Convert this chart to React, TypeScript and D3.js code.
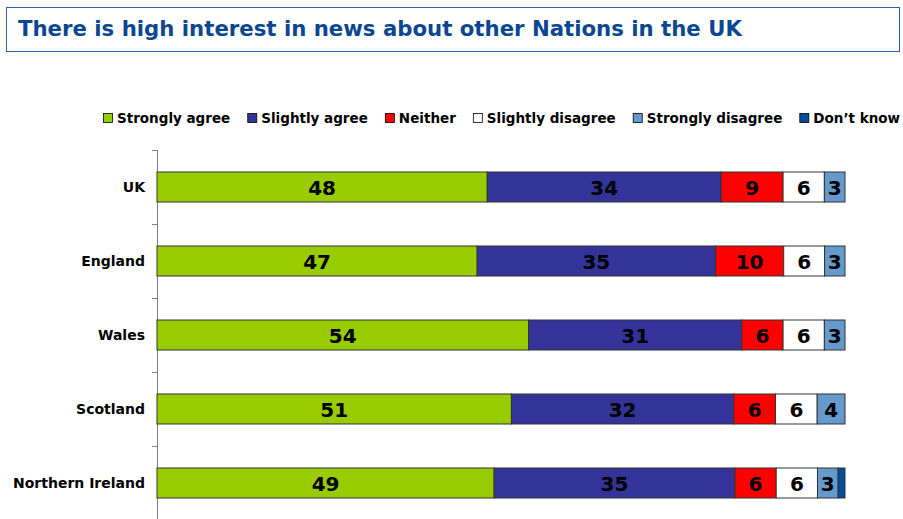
import React, { useEffect, useRef } from 'react';
import * as d3 from 'd3';

const categories = ['UK', 'England', 'Wales', 'Scotland', 'Northern Ireland'];
const seriesNames = [
  'Strongly agree',
  'Slightly agree',
  'Neither',
  'Slightly disagree',
  'Strongly disagree',
  'Don\u2019t know',
];
const strongly_agree = [48, 47, 54, 51, 49];
const slightly_agree = [34, 35, 31, 32, 35];
const neither = [9, 10, 6, 6, 6];
const slightly_disagree = [6, 6, 6, 6, 6];
const strongly_disagree = [3, 3, 3, 4, 3];
const dont_know = [0, 0, 0, 0, 1];
const colors = ['#99CC00', '#333399', '#FF0000', '#FFFFFF', '#6699CC', '#034C9B'];

const W = 903;
const H = 519;
const FONT = 'Verdana, DejaVu Sans, sans-serif';

export default function App() {
  const svgRef = useRef<SVGSVGElement>(null);

  useEffect(() => {
    if (!svgRef.current) return;
    const svg = d3.select(svgRef.current);
    svg.selectAll('*').remove();

    // Title box
    svg
      .append('rect')
      .attr('x', 6.5)
      .attr('y', 7.5)
      .attr('width', 893)
      .attr('height', 44)
      .attr('fill', '#fff')
      .attr('stroke', '#2D62A8')
      .attr('stroke-width', 1);
    const title = svg
      .append('text')
      .attr('x', 18)
      .attr('y', 36)
      .attr('fill', '#0B4690')
      .attr('font-family', FONT)
      .attr('font-weight', 'bold')
      .attr('font-size', '20px')
      .text('There is high interest in news about other Nations in the UK');
    // fit title to the width it takes in the original slide
    const tl = (title.node() as SVGTextElement).getComputedTextLength();
    title.attr('font-size', `${(20 * 724) / tl}px`);

    const rows = categories.map((c, i) => ({
      cat: c,
      [seriesNames[0]]: strongly_agree[i],
      [seriesNames[1]]: slightly_agree[i],
      [seriesNames[2]]: neither[i],
      [seriesNames[3]]: slightly_disagree[i],
      [seriesNames[4]]: strongly_disagree[i],
      [seriesNames[5]]: dont_know[i],
    }));

    const stacked = d3
      .stack<any>()
      .keys(seriesNames)
      .offset(d3.stackOffsetExpand)(rows);

    const left = 157;
    const right = 845;
    const top = 150;
    const bottom = 520;

    const x = d3.scaleLinear().domain([0, 1]).range([left, right]);
    const y = d3.scaleBand().domain(categories).range([top, bottom]).paddingInner(0).paddingOuter(0);
    const barH = 30;

    // Legend
    const legend = svg.append('g').attr('font-family', FONT);
    let lx = 103;
    seriesNames.forEach((name, i) => {
      legend
        .append('rect')
        .attr('x', lx + 0.5)
        .attr('y', 113.5)
        .attr('width', 9)
        .attr('height', 9)
        .attr('fill', colors[i])
        .attr('stroke', '#000')
        .attr('stroke-width', 0.8);
      const t = legend
        .append('text')
        .attr('x', lx + 14)
        .attr('y', 123)
        .attr('font-size', '13.5px')
        .attr('font-weight', 'bold')
        .attr('fill', '#000')
        .text(name);
      const tw = (t.node() as SVGTextElement).getComputedTextLength();
      lx += 14 + tw + 17;
    });

    // Axis line and ticks
    svg
      .append('line')
      .attr('x1', left + 0.5)
      .attr('x2', left + 0.5)
      .attr('y1', top)
      .attr('y2', H)
      .attr('stroke', '#7f7f7f')
      .attr('stroke-width', 1);
    categories.forEach((c) => {
      const ty = Math.round(y(c) || 0) + 0.5;
      svg
        .append('line')
        .attr('x1', left - 5)
        .attr('x2', left)
        .attr('y1', ty)
        .attr('y2', ty)
        .attr('stroke', '#7f7f7f');
    });

    // Category labels
    svg
      .append('g')
      .selectAll('text')
      .data(categories)
      .enter()
      .append('text')
      .attr('x', 145)
      .attr('y', (d) => (y(d) || 0) + y.bandwidth() / 2 + 5)
      .attr('text-anchor', 'end')
      .attr('font-family', FONT)
      .attr('font-size', '14px')
      .attr('font-weight', 'bold')
      .attr('fill', '#000')
      .text((d) => d);

    // Bars
    const layers = svg
      .append('g')
      .selectAll('g')
      .data(stacked)
      .enter()
      .append('g')
      .attr('fill', (_, i) => colors[i]);

    layers
      .selectAll('rect')
      .data((d) => d.filter((p) => p[1] - p[0] > 0))
      .enter()
      .append('rect')
      .attr('x', (p) => x(p[0]))
      .attr('y', (p) => (y(p.data.cat) || 0) + (y.bandwidth() - barH) / 2)
      .attr('width', (p) => x(p[1]) - x(p[0]))
      .attr('height', barH)
      .attr('stroke', '#333')
      .attr('stroke-width', 1);

    // Value labels
    stacked.forEach((layer) => {
      const key = layer.key;
      svg
        .append('g')
        .selectAll('text')
        .data(layer.filter((p) => (p.data as any)[key] >= 2))
        .enter()
        .append('text')
        .attr('x', (p) => (x(p[0]) + x(p[1])) / 2)
        .attr('y', (p) => (y(p.data.cat) || 0) + y.bandwidth() / 2 + 7.5)
        .attr('text-anchor', 'middle')
        .attr('font-family', FONT)
        .attr('font-size', '20px')
        .attr('font-weight', 'bold')
        .attr('fill', '#000')
        .text((p) => (p.data as any)[key]);
    });
  }, []);

  return (
    <svg
      ref={svgRef}
      width={W}
      height={H}
      style={{ position: 'absolute', left: 0, top: 0, background: '#fff' }}
    />
  );
}
